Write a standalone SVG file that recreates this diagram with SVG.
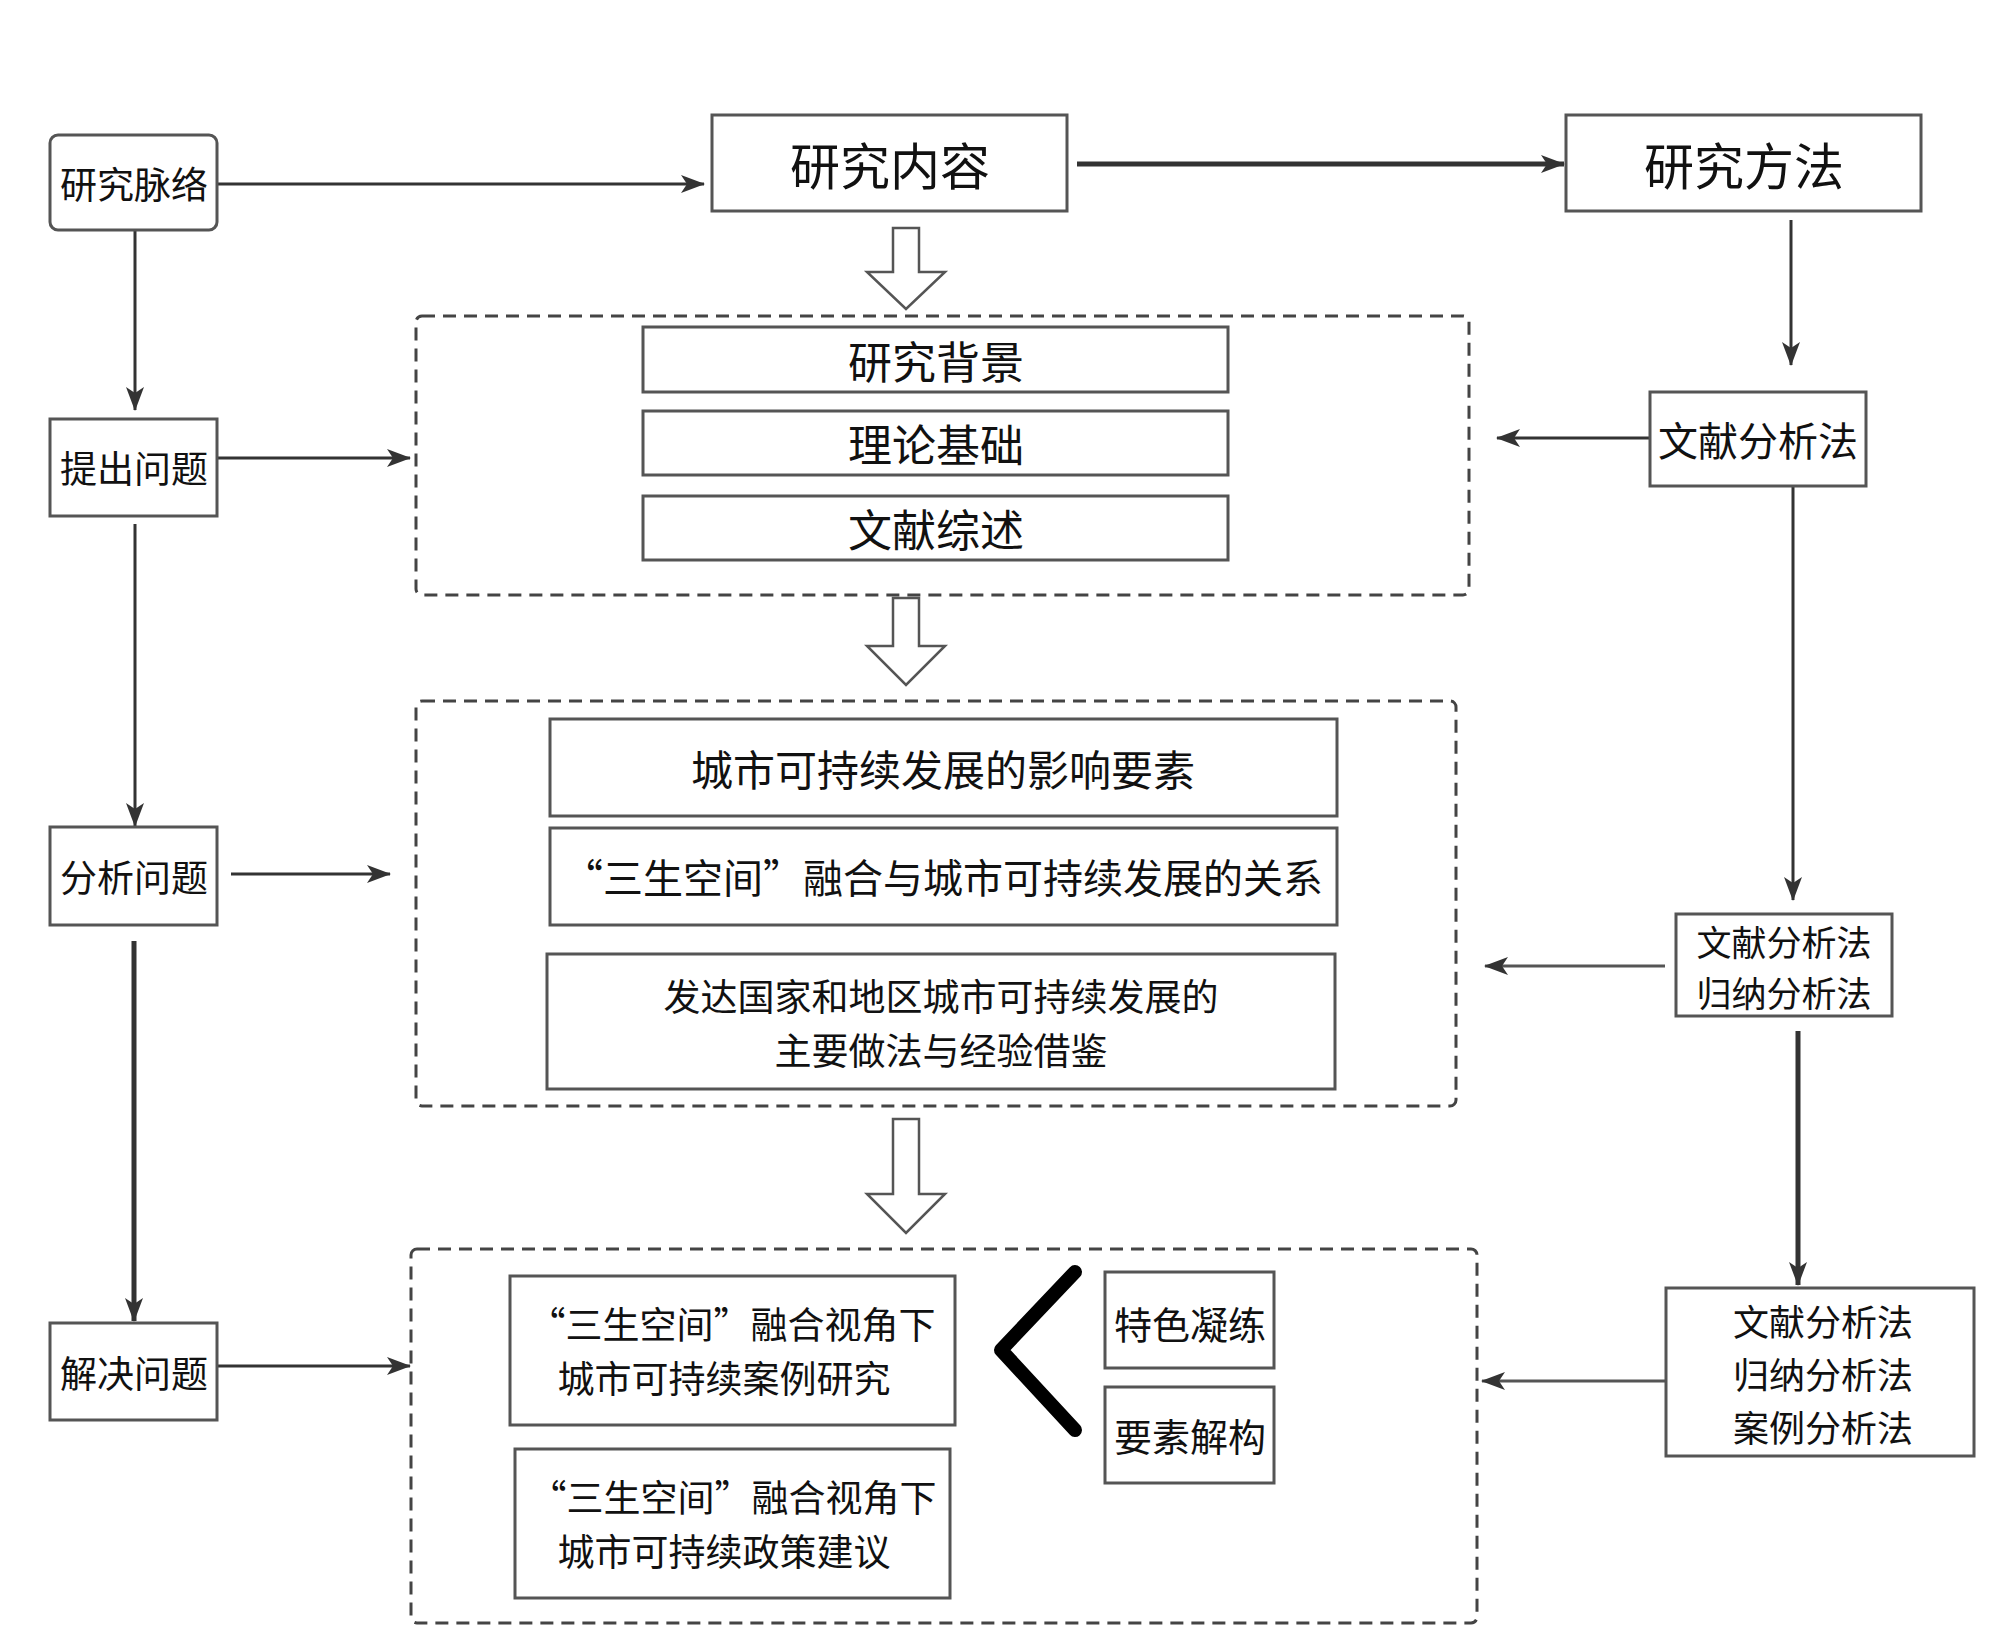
<svg xmlns="http://www.w3.org/2000/svg" width="2000" height="1652" viewBox="0 0 2000 1652">
<style>
.box{fill:#fff;stroke:#555;stroke-width:3}
.dash{fill:none;stroke:#444;stroke-width:3;stroke-dasharray:13 8}
.t{font-family:"Noto Sans CJK SC","Noto Sans",sans-serif;fill:#111;text-anchor:middle;dominant-baseline:central}
.c{fill:none;stroke:#333;stroke-width:3;marker-end:url(#ah)}
.thick{stroke-width:5}
.hollow{fill:#fff;stroke:#555;stroke-width:2.5;stroke-linejoin:miter}
</style>
<defs>
<marker id="ah" markerUnits="userSpaceOnUse" markerWidth="24" markerHeight="18" viewBox="0 0 24 18" refX="23" refY="9" orient="auto">
<path d="M0,0 L24,9 L0,18 L6,9 z" fill="#333"/>
</marker>
</defs>
<rect width="2000" height="1652" fill="#fff"/>

<g id="connectors">
<path class="c" d="M218,184 H704"/>
<path class="c thick" d="M1077,164 H1564"/>
<path class="c" d="M135,231 V410"/>
<path class="c" d="M218,458 H410"/>
<path class="c" d="M135,524 V826"/>
<path class="c" d="M231,874 H390"/>
<path class="c thick" d="M134,941 V1321"/>
<path class="c" d="M218,1366 H410"/>
<path class="c" d="M1791,220 V365"/>
<path class="c" d="M1650,438 H1497"/>
<path class="c" d="M1793,486 V900"/>
<path class="c" d="M1665,966 H1485" style="stroke:#555"/>
<path class="c thick" d="M1798,1031 V1285"/>
<path class="c" d="M1666,1381 H1482" style="stroke:#555"/>
<polygon class="hollow" points="893,228 919,228 919,272 945,272 906,309 867,272 893,272"/>
<polygon class="hollow" points="893,598 919,598 919,646 945,646 906,685 867,646 893,646"/>
<polygon class="hollow" points="893,1119 919,1119 919,1194 945,1194 906,1233 867,1194 893,1194"/>
</g>

<g id="group-background">
<rect class="dash" x="416" y="316" width="1053" height="279" rx="6"/>
</g>
<g id="group-analysis">
<rect class="dash" x="416" y="701" width="1040" height="405" rx="6"/>
</g>
<g id="group-solution">
<rect class="dash" x="411" y="1249" width="1066" height="374" rx="6"/>
</g>

<g id="n-context"><rect class="box" x="50" y="135" width="167" height="95" rx="8"/><text class="t" x="134" y="183" font-size="37">研究脉络</text></g>
<g id="n-raise"><rect class="box" x="50" y="419" width="167" height="97"/><text class="t" x="134" y="467" font-size="37">提出问题</text></g>
<g id="n-analyze"><rect class="box" x="50" y="827" width="167" height="98"/><text class="t" x="134" y="876" font-size="37">分析问题</text></g>
<g id="n-solve"><rect class="box" x="50" y="1323" width="167" height="97"/><text class="t" x="134" y="1372" font-size="37">解决问题</text></g>

<g id="n-content"><rect class="box" x="712" y="115" width="355" height="96"/><text class="t" x="890" y="163" font-size="50">研究内容</text></g>
<g id="n-method"><rect class="box" x="1566" y="115" width="355" height="96"/><text class="t" x="1744" y="163" font-size="50">研究方法</text></g>

<g id="n-bg"><rect class="box" x="643" y="327" width="585" height="65"/><text class="t" x="936" y="360" font-size="44">研究背景</text></g>
<g id="n-theory"><rect class="box" x="643" y="411" width="585" height="64"/><text class="t" x="936" y="443" font-size="44">理论基础</text></g>
<g id="n-review"><rect class="box" x="643" y="496" width="585" height="64"/><text class="t" x="936" y="528" font-size="44">文献综述</text></g>

<g id="n-m1"><rect class="box" x="1650" y="392" width="216" height="94"/><text class="t" x="1758" y="439" font-size="40">文献分析法</text></g>

<g id="n-factors"><rect class="box" x="550" y="719" width="787" height="97"/><text class="t" x="943" y="767" font-size="42">城市可持续发展的影响要素</text></g>
<g id="n-relation"><rect class="box" x="550" y="828" width="787" height="97"/><text class="t" x="943" y="876" font-size="40">“三生空间”融合与城市可持续发展的关系</text></g>
<g id="n-experience"><rect class="box" x="547" y="954" width="788" height="135"/><text class="t" font-size="37"><tspan x="941" y="995">发达国家和地区城市可持续发展的</tspan><tspan x="941" y="1049">主要做法与经验借鉴</tspan></text></g>

<g id="n-m2"><rect class="box" x="1676" y="914" width="216" height="102"/><text class="t" font-size="35"><tspan x="1784" y="940">文献分析法</tspan><tspan x="1784" y="991">归纳分析法</tspan></text></g>

<g id="n-case"><rect class="box" x="510" y="1276" width="445" height="149"/><text class="t" font-size="37"><tspan x="732" y="1323">“三生空间”融合视角下</tspan><tspan x="724" y="1377">城市可持续案例研究</tspan></text></g>
<g id="n-policy"><rect class="box" x="515" y="1449" width="435" height="149"/><text class="t" font-size="37"><tspan x="733" y="1496">“三生空间”融合视角下</tspan><tspan x="724" y="1550">城市可持续政策建议</tspan></text></g>

<g id="n-chevron"><polyline points="1075,1272 1001,1350 1075,1430" fill="none" stroke="#000" stroke-width="14" stroke-linecap="round" stroke-linejoin="round"/></g>
<g id="n-feature"><rect class="box" x="1105" y="1272" width="169" height="96"/><text class="t" x="1190" y="1322" font-size="38">特色凝练</text></g>
<g id="n-deconstruct"><rect class="box" x="1105" y="1387" width="169" height="96"/><text class="t" x="1190" y="1434" font-size="38">要素解构</text></g>

<g id="n-m3"><rect class="box" x="1666" y="1288" width="308" height="168"/><text class="t" font-size="36"><tspan x="1823" y="1320">文献分析法</tspan><tspan x="1823" y="1373">归纳分析法</tspan><tspan x="1823" y="1426">案例分析法</tspan></text></g>
</svg>
